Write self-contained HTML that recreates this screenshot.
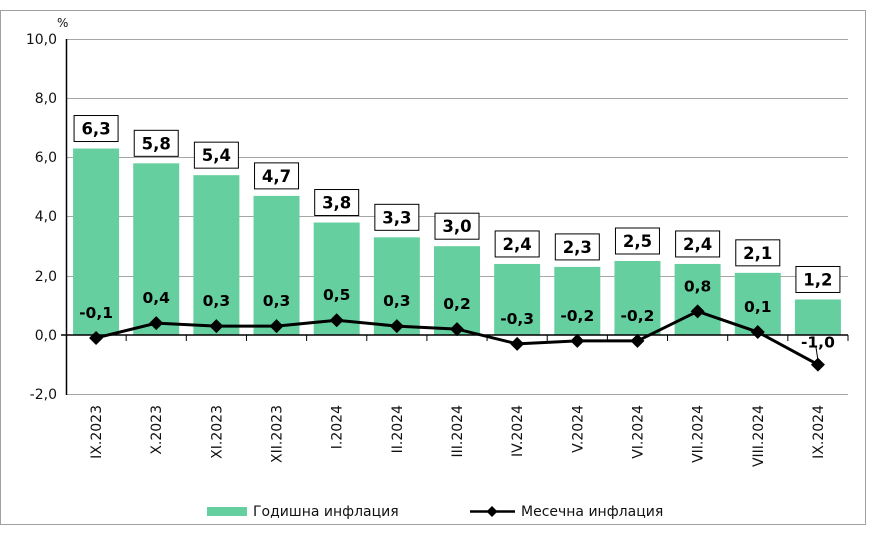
<!DOCTYPE html>
<html><head><meta charset="utf-8"><style>
html,body{margin:0;padding:0;background:#fff;}
svg{display:block;font-family:"DejaVu Sans","Liberation Sans",sans-serif;}
</style></head><body>
<svg width="870" height="535" xmlns="http://www.w3.org/2000/svg">
<rect x="0.5" y="10.5" width="865" height="514" fill="#fff" stroke="#a0a0a0"/>
<g stroke="#a6a6a6" stroke-width="1">
<line x1="66" y1="39.5" x2="848" y2="39.5"/>
<line x1="66" y1="98.5" x2="848" y2="98.5"/>
<line x1="66" y1="157.5" x2="848" y2="157.5"/>
<line x1="66" y1="216.5" x2="848" y2="216.5"/>
<line x1="66" y1="276.5" x2="848" y2="276.5"/>
<line x1="66" y1="394.5" x2="848" y2="394.5"/>
</g>
<g font-size="14" fill="#111" text-anchor="end">
<text x="57" y="44">10,0</text><text x="57" y="103">8,0</text><text x="57" y="162">6,0</text>
<text x="57" y="221">4,0</text><text x="57" y="281">2,0</text><text x="57" y="340">0,0</text><text x="57" y="399">-2,0</text>
</g>
<text x="57" y="27" font-size="12" fill="#111">%</text>
<g id="bars" fill="#66cfa0"></g>
<line x1="66.5" y1="39" x2="66.5" y2="395" stroke="#000" stroke-width="1.5"/>
<line x1="61" y1="335" x2="848" y2="335" stroke="#000" stroke-width="1.5"/>
<g id="ticks" stroke="#000"></g>
<g id="labs"></g>
<g id="line"></g>
<g font-size="14" fill="#111">
<rect x="207" y="507" width="40" height="9" fill="#66cfa0"/>
<text x="253" y="516">Годишна инфлация</text>
<line x1="470" y1="511.5" x2="515" y2="511.5" stroke="#000" stroke-width="2.5"/>
<polygon points="492,506 497.5,511.5 492,517 486.5,511.5" fill="#000"/>
<text x="521" y="516">Месечна инфлация</text>
</g>
</svg>
<script>
const ns="http://www.w3.org/2000/svg";
const cats=["IX.2023","X.2023","XI.2023","XII.2023","I.2024","II.2024","III.2024","IV.2024","V.2024","VI.2024","VII.2024","VIII.2024","IX.2024"];
const bars=[6.3,5.8,5.4,4.7,3.8,3.3,3.0,2.4,2.3,2.5,2.4,2.1,1.2];
const mon=[-0.1,0.4,0.3,0.3,0.5,0.3,0.2,-0.3,-0.2,-0.2,0.8,0.1,-1.0];
const cw=782/13, y0=335, k=29.6;
function el(t,a,p,txt){const e=document.createElementNS(ns,t);for(const q in a)e.setAttribute(q,a[q]);if(txt!==undefined)e.textContent=txt;document.getElementById(p).appendChild(e);return e;}
const fmt=v=>v.toFixed(1).replace('.',',');
let pts=[];
cats.forEach((c,i)=>{
 const cx=66+cw*(i+0.5);
 const top=y0-bars[i]*k;
 el('rect',{x:cx-23,y:top,width:46,height:y0-top},'bars');
 el('line',{x1:66+cw*(i+1),y1:335,x2:66+cw*(i+1),y2:341},'ticks');
 el('text',{transform:`translate(${cx+5},405) rotate(-90)`,'text-anchor':'end','font-size':'14',fill:'#111'},'labs',c);
 el('rect',{x:cx-22,y:top-33,width:44,height:26,fill:'#fff',stroke:'#000'},'labs');
 el('text',{x:cx,y:top-14,'text-anchor':'middle','font-size':'16.5','font-weight':'bold',fill:'#000'},'labs',fmt(bars[i]));
 const py=y0-mon[i]*k; pts.push(cx+','+py);
 const ly=(i==12)?py-17:py-20;
 el('text',{x:cx,y:ly,'text-anchor':'middle','font-size':'15.5','font-weight':'bold',fill:'#000'},'labs',fmt(mon[i]));
});
el('line',{x1:66+cw*12.5-2,y1:347,x2:66+cw*12.5,y2:360,stroke:'#000','stroke-width':1},'line');
el('polyline',{points:pts.join(' '),fill:'none',stroke:'#000','stroke-width':3},'line');
pts.forEach(p=>{const [x,y]=p.split(',').map(Number);el('polygon',{points:`${x},${y-7} ${x+7},${y} ${x},${y+7} ${x-7},${y}`,fill:'#000'},'line');});
</script>
</body></html>
